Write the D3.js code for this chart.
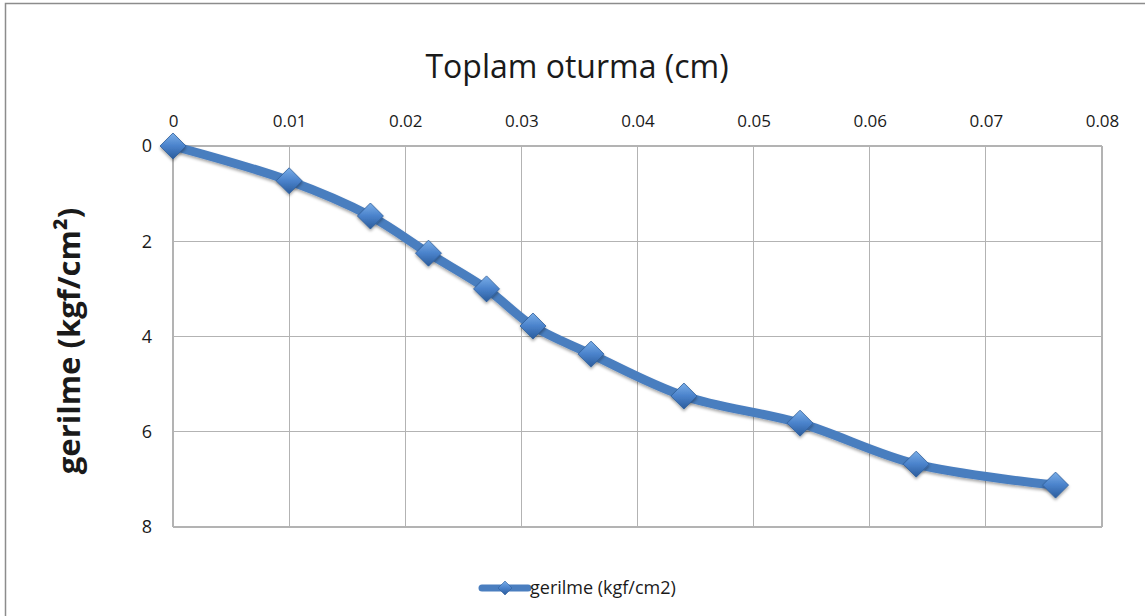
<!DOCTYPE html>
<html>
<head>
<meta charset="utf-8">
<script src="https://cdn.jsdelivr.net/npm/d3@7"></script>
<style>
  html, body { margin: 0; padding: 0; background: #fff; }
  svg { display: block; }
  text { font-family: "Open Sans", "Noto Sans", sans-serif; fill: #1a1a1a; }
</style>
</head>
<body>
<svg id="chart" width="1145" height="616"></svg>
<script>
// Settlement (cm) vs. stress (kgf/cm2)
const settlement = [0, 0.01, 0.017, 0.022, 0.027, 0.031, 0.036, 0.044, 0.054, 0.064, 0.076];
const stress     = [0, 0.73, 1.47, 2.25, 3.0, 3.78, 4.37, 5.25, 5.82, 6.68, 7.12];
const xTicks = [0, 0.01, 0.02, 0.03, 0.04, 0.05, 0.06, 0.07, 0.08];
const yTicks = [0, 2, 4, 6, 8];
const xTickLabels = ["0", "0.01", "0.02", "0.03", "0.04", "0.05", "0.06", "0.07", "0.08"];
const yTickLabels = ["0", "2", "4", "6", "8"];
const seriesName = "gerilme (kgf/cm2)";
const chartTitle = "Toplam oturma (cm)";
const yTitle = "gerilme (kgf/cm\u00B2)";

const svg = d3.select("#chart");
const plot = { left: 173, right: 1102, top: 146, bottom: 527 };

const x = d3.scaleLinear().domain([0, 0.08]).range([plot.left, plot.right]);
const y = d3.scaleLinear().domain([0, 8]).range([plot.top, plot.bottom]);

// outer chart frame
svg.append("rect")
  .attr("x", 5.5).attr("y", 3.5).attr("width", 1160).attr("height", 640)
  .attr("fill", "#fff").attr("stroke", "#8c8c8c").attr("stroke-width", 1.5);

const defs = svg.append("defs");
const grad = defs.append("linearGradient").attr("id", "mk").attr("x1", 0).attr("y1", 0).attr("x2", 0).attr("y2", 1);
grad.append("stop").attr("offset", "0%").attr("stop-color", "#7aaee8");
grad.append("stop").attr("offset", "50%").attr("stop-color", "#4a82cb");
grad.append("stop").attr("offset", "100%").attr("stop-color", "#2b5c9c");
const sh = defs.append("filter").attr("id", "shadow").attr("x", "-50%").attr("y", "-50%").attr("width", "200%").attr("height", "200%");
sh.append("feDropShadow").attr("dx", 0).attr("dy", 2).attr("stdDeviation", 1.5).attr("flood-color", "#000").attr("flood-opacity", 0.35);

// gridlines
const grid = svg.append("g").attr("stroke", "#b3b3b3").attr("stroke-width", 1.2).attr("shape-rendering", "crispEdges");
grid.selectAll("line.v").data(xTicks).join("line")
  .attr("x1", d => x(d)).attr("x2", d => x(d)).attr("y1", plot.top).attr("y2", plot.bottom);
grid.selectAll("line.h").data(yTicks).join("line")
  .attr("x1", plot.left).attr("x2", plot.right).attr("y1", d => y(d)).attr("y2", d => y(d));

// top x axis labels
const xAxis = d3.axisTop(x).tickValues(xTicks).tickFormat((d, i) => xTickLabels[i]).tickSize(0).tickPadding(19);
const gx = svg.append("g").attr("transform", `translate(0,${plot.top})`).call(xAxis);
gx.select(".domain").remove();
gx.selectAll("text").style("font-size", "17px").style("font-family", "'Open Sans', sans-serif").attr("fill", "#222");

// left y axis labels
const yAxis = d3.axisLeft(y).tickValues(yTicks).tickFormat((d, i) => yTickLabels[i]).tickSize(0).tickPadding(21);
const gy = svg.append("g").attr("transform", `translate(${plot.left},0)`).call(yAxis);
gy.select(".domain").remove();
gy.selectAll("text").style("font-size", "18px").style("font-family", "'Open Sans', sans-serif").attr("fill", "#222");

// titles
svg.append("text").attr("x", 577).attr("y", 78).attr("text-anchor", "middle")
  .style("font-size", "32px").text(chartTitle);
svg.append("text").attr("transform", "translate(80,341) rotate(-90)").attr("text-anchor", "middle")
  .style("font-size", "31px").style("font-weight", "bold").attr("fill", "#000").text(yTitle);

// series
const pts = settlement.map((s, i) => [s, stress[i]]);
const line = d3.line().x(d => x(d[0])).y(d => y(d[1])).curve(d3.curveCatmullRom.alpha(0.5));
svg.append("path").datum(pts).attr("d", line)
  .attr("fill", "none").attr("stroke", "#4a7ebf").attr("stroke-width", 9)
  .attr("stroke-linejoin", "round").attr("stroke-linecap", "round")
  .attr("filter", "url(#shadow)");

const diamond = r => `M0,${-r}L${r},0L0,${r}L${-r},0Z`;
svg.append("g").selectAll("path").data(pts).join("path")
  .attr("transform", d => `translate(${x(d[0])},${y(d[1])})`)
  .attr("d", diamond(13))
  .attr("fill", "url(#mk)").attr("stroke", "#2f5e9a").attr("stroke-width", 0.8)
  .attr("filter", "url(#shadow)");

// legend
const lg = svg.append("g").attr("transform", "translate(0,588)");
lg.append("line").attr("x1", 482).attr("x2", 528).attr("y1", 0).attr("y2", 0)
  .attr("stroke", "#4a7ebf").attr("stroke-width", 7).attr("stroke-linecap", "round");
lg.append("path").attr("transform", "translate(505,0)").attr("d", diamond(7))
  .attr("fill", "url(#mk)").attr("stroke", "#2f5e9a").attr("stroke-width", 0.6);
lg.append("text").attr("x", 530).attr("y", 6).style("font-size", "18px").attr("fill", "#333").text(seriesName);
</script>
</body>
</html>
